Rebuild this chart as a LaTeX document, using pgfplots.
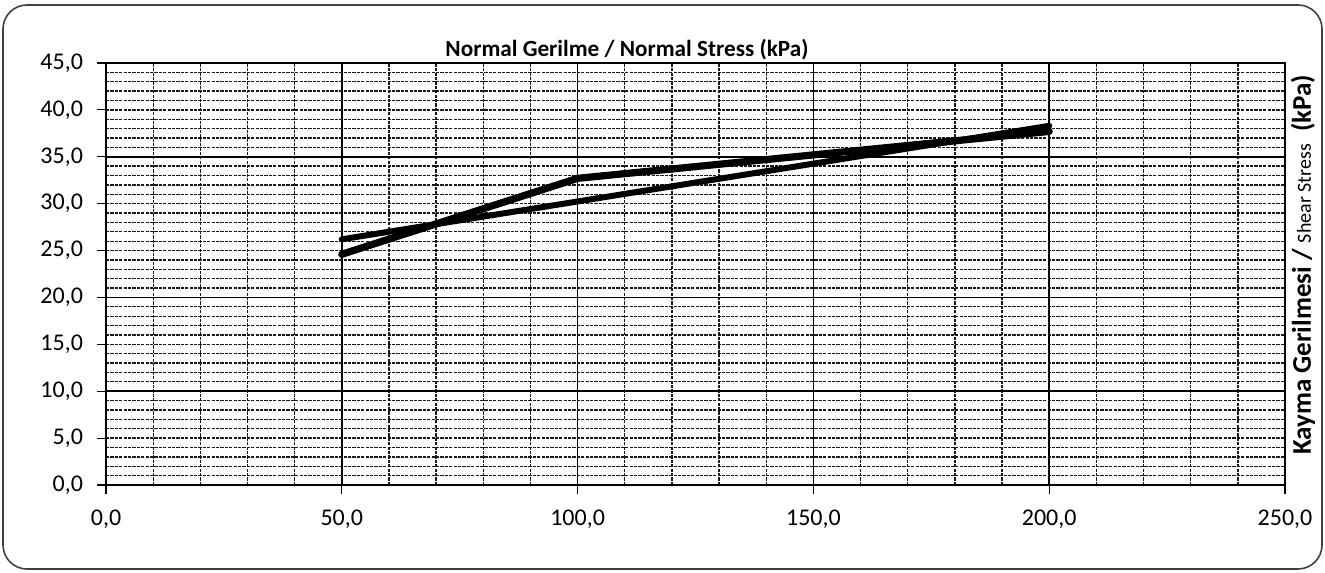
\documentclass[border=0pt]{standalone}
\usepackage{pgfplots}
\pgfplotsset{compat=1.18}
\usepackage{fontspec}
\setmainfont{Carlito}
\begin{document}
\begin{tikzpicture}[x=1pt,y=1pt]
\path[use as bounding box] (0,0) rectangle (662.5,286);
\draw[black!75, line width=0.8pt, rounded corners=12pt] (1.5,1.5) rectangle (661,283.5);
\begin{axis}[
  at={(53pt,43.5pt)}, anchor=south west,
  scale only axis, width=589.5pt, height=211pt,
  xmin=0, xmax=250, ymin=0, ymax=45,
  xtick={0,50,...,250}, ytick={0,5,...,45},
  minor xtick={10,20,30,40,60,70,80,90,110,120,130,140,160,170,180,190,210,220,230,240},
  minor ytick={1,2,...,44},
  xmajorgrids=true, xminorgrids=true, ymajorgrids=false, yminorgrids=true,
  major grid style={black, solid, line width=0.8pt},
  minor grid style={black!90, line width=0.65pt, dash pattern=on 1.6pt off 0.6pt},
  extra y ticks={10,20,35}, extra y tick labels={},
  extra y tick style={grid=major},
  axis line style={black, line width=0.8pt},
  tick align=outside, major tick length=4.5pt, minor tick length=0pt,
  xtick pos=bottom, ytick pos=left,
  tick style={black, line width=0.6pt},
  every tick label/.append style={font=\fontsize{12}{14}\selectfont},
  tick label style={font=\fontsize{12}{14}\selectfont},
  /pgf/number format/.cd, fixed, fixed zerofill, precision=1, use comma, assume math mode=true,
  /pgfplots/.cd,
  xticklabel style={yshift=-4.5pt},
  yticklabel style={xshift=-3.5pt},
]
\addplot[black, line width=3.6pt, line join=round, line cap=round] coordinates {(50,24.6) (100,32.7) (200,37.7)};
\addplot[black, line width=3pt, line cap=round] coordinates {(50,26.2) (200,38.3)};
\end{axis}
\node[anchor=base, font=\bfseries\fontsize{11.6}{13}\selectfont] at (313.5,257.5) {Normal Gerilme / Normal Stress (kPa)};
\node[rotate=90, anchor=center] at (651.5,153.5) {{\fontsize{13.5}{15}\selectfont\bfseries Kayma Gerilmesi / }{\fontsize{10}{11}\selectfont Shear Stress}{\fontsize{13.5}{15}\selectfont\bfseries\ \ (kPa)}};
\end{tikzpicture}
\end{document}
